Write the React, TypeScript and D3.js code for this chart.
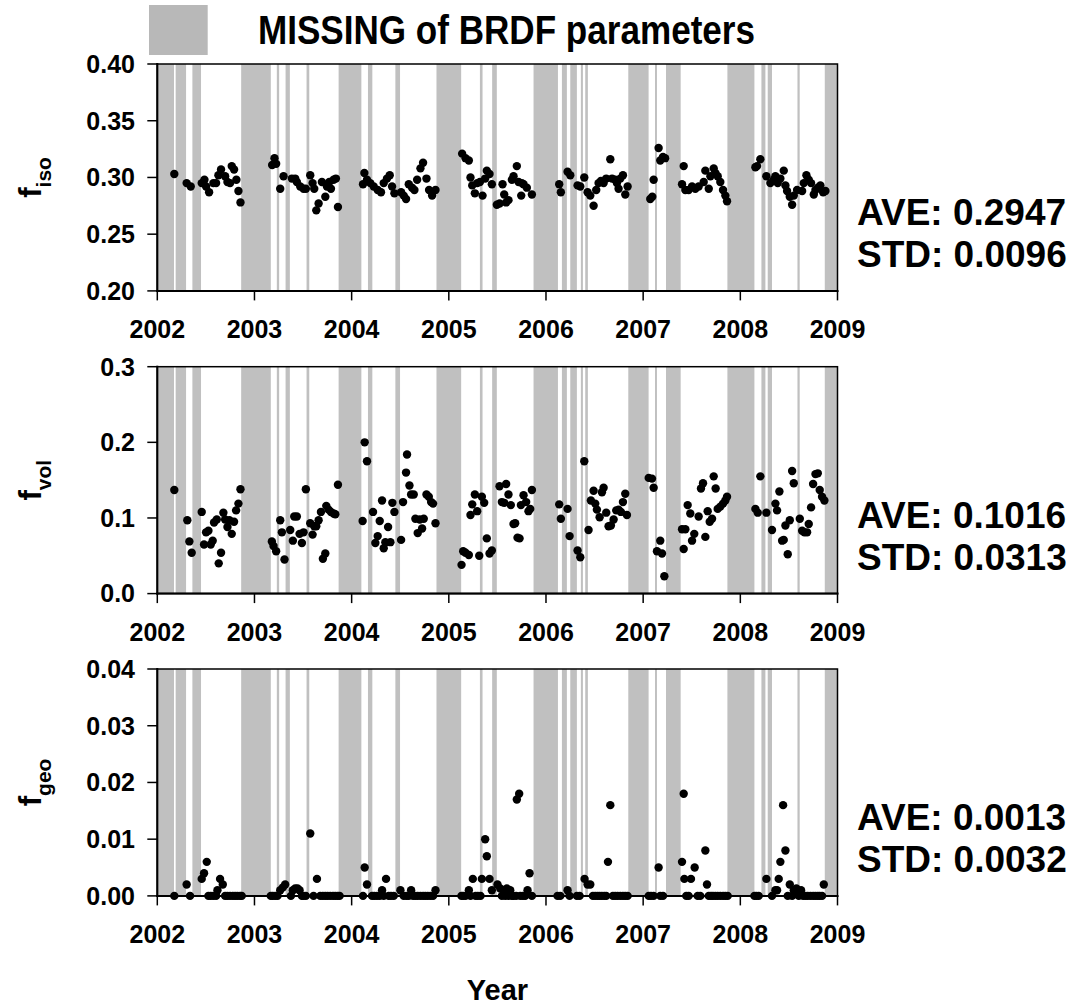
import React from 'react';
import * as d3 from 'd3';

const YEAR_TICKS = [2002, 2003, 2004, 2005, 2006, 2007, 2008, 2009];

const MISSING_PERIODS: [number, number][] = [
  [2002.0, 2002.172], [2002.189, 2002.296], [2002.361, 2002.45], [2002.863, 2003.168],
  [2003.23, 2003.254], [2003.32, 2003.364], [2003.536, 2003.564], [2003.866, 2004.1],
  [2004.168, 2004.213], [2004.45, 2004.498], [2004.873, 2005.127], [2005.32, 2005.347],
  [2005.446, 2005.494], [2005.872, 2006.123], [2006.164, 2006.215], [2006.25, 2006.318],
  [2006.359, 2006.38], [2006.404, 2006.431], [2006.847, 2007.056], [2007.122, 2007.142],
  [2007.235, 2007.386], [2007.867, 2008.145], [2008.217, 2008.258], [2008.282, 2008.326],
  [2008.588, 2008.611], [2008.869, 2009.0],
];

const F_ISO: [number, number][] = [
  [2002.175, 0.303], [2002.302, 0.295], [2002.344, 0.292], [2002.457, 0.295], [2002.485, 0.298], [2002.502, 0.292],
  [2002.533, 0.287], [2002.577, 0.295], [2002.605, 0.295], [2002.629, 0.302], [2002.656, 0.307], [2002.698, 0.301],
  [2002.722, 0.296], [2002.749, 0.295], [2002.766, 0.310], [2002.790, 0.307], [2002.814, 0.298], [2002.835, 0.288],
  [2002.856, 0.278],
  [2003.182, 0.311], [2003.206, 0.317], [2003.223, 0.312], [2003.265, 0.290], [2003.299, 0.301], [2003.385, 0.299],
  [2003.419, 0.299], [2003.436, 0.296], [2003.471, 0.292], [2003.505, 0.290], [2003.529, 0.290], [2003.574, 0.302],
  [2003.598, 0.295], [2003.615, 0.290], [2003.636, 0.271], [2003.660, 0.277], [2003.694, 0.296], [2003.729, 0.283],
  [2003.746, 0.292], [2003.770, 0.296], [2003.787, 0.290], [2003.814, 0.298], [2003.838, 0.299], [2003.859, 0.274],
  [2004.117, 0.294], [2004.131, 0.304], [2004.158, 0.298], [2004.192, 0.295], [2004.227, 0.292], [2004.268, 0.289],
  [2004.302, 0.287], [2004.330, 0.295], [2004.364, 0.299], [2004.392, 0.302], [2004.416, 0.292], [2004.440, 0.286],
  [2004.509, 0.287], [2004.536, 0.284], [2004.560, 0.281], [2004.588, 0.294], [2004.622, 0.291], [2004.646, 0.289],
  [2004.674, 0.298], [2004.708, 0.308], [2004.735, 0.313], [2004.770, 0.299], [2004.797, 0.289], [2004.828, 0.284],
  [2004.863, 0.289],
  [2005.137, 0.321], [2005.172, 0.317], [2005.206, 0.315], [2005.223, 0.300], [2005.241, 0.293], [2005.268, 0.286],
  [2005.292, 0.295], [2005.320, 0.296], [2005.347, 0.284], [2005.374, 0.299], [2005.391, 0.306], [2005.419, 0.303],
  [2005.443, 0.294], [2005.494, 0.276], [2005.522, 0.277], [2005.553, 0.294], [2005.570, 0.285], [2005.590, 0.278],
  [2005.614, 0.280], [2005.649, 0.298], [2005.666, 0.301], [2005.700, 0.310], [2005.718, 0.296], [2005.745, 0.284],
  [2005.752, 0.295], [2005.769, 0.294], [2005.803, 0.291], [2005.855, 0.285],
  [2006.136, 0.294], [2006.153, 0.287], [2006.222, 0.305], [2006.250, 0.302], [2006.325, 0.293], [2006.353, 0.292],
  [2006.394, 0.300], [2006.428, 0.287], [2006.456, 0.284], [2006.490, 0.275], [2006.517, 0.289], [2006.541, 0.295],
  [2006.565, 0.297], [2006.593, 0.295], [2006.620, 0.299], [2006.662, 0.316], [2006.680, 0.299], [2006.713, 0.298],
  [2006.730, 0.295], [2006.747, 0.290], [2006.765, 0.299], [2006.792, 0.302], [2006.816, 0.285], [2006.840, 0.292],
  [2007.073, 0.281], [2007.094, 0.283], [2007.108, 0.298], [2007.159, 0.326], [2007.176, 0.315], [2007.204, 0.318],
  [2007.226, 0.317], [2007.400, 0.294], [2007.417, 0.310], [2007.434, 0.289], [2007.468, 0.289], [2007.503, 0.292],
  [2007.537, 0.290], [2007.571, 0.292], [2007.623, 0.296], [2007.640, 0.306], [2007.675, 0.290], [2007.692, 0.301],
  [2007.726, 0.308], [2007.743, 0.304], [2007.767, 0.301], [2007.794, 0.296], [2007.822, 0.289], [2007.846, 0.284],
  [2007.863, 0.279],
  [2008.155, 0.309], [2008.172, 0.310], [2008.206, 0.316], [2008.268, 0.301], [2008.309, 0.295], [2008.344, 0.298],
  [2008.361, 0.301], [2008.385, 0.295], [2008.412, 0.299], [2008.447, 0.306], [2008.464, 0.293], [2008.481, 0.288],
  [2008.509, 0.283], [2008.533, 0.276], [2008.550, 0.284], [2008.584, 0.289], [2008.636, 0.288], [2008.653, 0.295],
  [2008.680, 0.302], [2008.704, 0.298], [2008.728, 0.295], [2008.756, 0.285], [2008.773, 0.289], [2008.797, 0.291],
  [2008.824, 0.293], [2008.852, 0.287], [2008.876, 0.288],
];

const F_VOL: [number, number][] = [
  [2002.175, 0.137], [2002.309, 0.097], [2002.330, 0.069], [2002.354, 0.054], [2002.457, 0.108], [2002.481, 0.065],
  [2002.502, 0.081], [2002.526, 0.083], [2002.550, 0.065], [2002.570, 0.070], [2002.584, 0.094], [2002.612, 0.098],
  [2002.632, 0.040], [2002.656, 0.054], [2002.680, 0.107], [2002.698, 0.098], [2002.722, 0.088], [2002.742, 0.097],
  [2002.766, 0.079], [2002.790, 0.095], [2002.811, 0.110], [2002.835, 0.119], [2002.856, 0.138],
  [2003.179, 0.069], [2003.196, 0.063], [2003.223, 0.056], [2003.265, 0.097], [2003.282, 0.081], [2003.309, 0.045],
  [2003.368, 0.084], [2003.395, 0.070], [2003.409, 0.102], [2003.436, 0.102], [2003.464, 0.079], [2003.488, 0.067],
  [2003.505, 0.081], [2003.529, 0.138], [2003.574, 0.093], [2003.598, 0.078], [2003.615, 0.089], [2003.636, 0.089],
  [2003.660, 0.097], [2003.684, 0.108], [2003.704, 0.046], [2003.729, 0.053], [2003.739, 0.116], [2003.763, 0.111],
  [2003.787, 0.108], [2003.814, 0.106], [2003.832, 0.105], [2003.859, 0.144],
  [2004.113, 0.096], [2004.134, 0.200], [2004.158, 0.175], [2004.220, 0.108], [2004.244, 0.067], [2004.268, 0.076],
  [2004.289, 0.096], [2004.313, 0.123], [2004.330, 0.060], [2004.347, 0.068], [2004.375, 0.088], [2004.399, 0.068],
  [2004.419, 0.120], [2004.440, 0.108], [2004.509, 0.071], [2004.529, 0.121], [2004.560, 0.160], [2004.570, 0.184],
  [2004.595, 0.143], [2004.612, 0.131], [2004.639, 0.131], [2004.656, 0.099], [2004.680, 0.080], [2004.701, 0.098],
  [2004.725, 0.086], [2004.742, 0.099], [2004.770, 0.131], [2004.794, 0.128], [2004.818, 0.121], [2004.838, 0.119],
  [2004.863, 0.093],
  [2005.131, 0.038], [2005.148, 0.056], [2005.172, 0.054], [2005.206, 0.051], [2005.223, 0.104], [2005.241, 0.118],
  [2005.268, 0.131], [2005.292, 0.109], [2005.313, 0.050], [2005.340, 0.128], [2005.364, 0.120], [2005.391, 0.073],
  [2005.419, 0.053], [2005.443, 0.057], [2005.522, 0.142], [2005.546, 0.121], [2005.570, 0.120], [2005.590, 0.145],
  [2005.614, 0.131], [2005.638, 0.117], [2005.666, 0.092], [2005.683, 0.093], [2005.707, 0.074], [2005.728, 0.073],
  [2005.742, 0.117], [2005.769, 0.130], [2005.796, 0.121], [2005.820, 0.109], [2005.838, 0.112], [2005.855, 0.137],
  [2006.136, 0.118], [2006.153, 0.099], [2006.222, 0.112], [2006.243, 0.076], [2006.325, 0.057], [2006.353, 0.048],
  [2006.394, 0.175], [2006.438, 0.084], [2006.462, 0.123], [2006.490, 0.136], [2006.507, 0.119], [2006.524, 0.111],
  [2006.552, 0.101], [2006.576, 0.134], [2006.593, 0.140], [2006.620, 0.107], [2006.644, 0.089], [2006.668, 0.090],
  [2006.696, 0.098], [2006.723, 0.110], [2006.747, 0.111], [2006.771, 0.108], [2006.792, 0.121], [2006.816, 0.132],
  [2006.833, 0.104],
  [2007.057, 0.153], [2007.091, 0.152], [2007.108, 0.140], [2007.142, 0.056], [2007.176, 0.070], [2007.194, 0.053],
  [2007.218, 0.023], [2007.400, 0.085], [2007.417, 0.059], [2007.434, 0.085], [2007.458, 0.117], [2007.485, 0.106],
  [2007.503, 0.070], [2007.526, 0.079], [2007.571, 0.102], [2007.595, 0.139], [2007.616, 0.146], [2007.640, 0.075],
  [2007.664, 0.109], [2007.685, 0.095], [2007.709, 0.099], [2007.726, 0.155], [2007.746, 0.139], [2007.767, 0.112],
  [2007.794, 0.115], [2007.822, 0.119], [2007.846, 0.123], [2007.863, 0.128],
  [2008.155, 0.112], [2008.179, 0.107], [2008.206, 0.155], [2008.268, 0.107], [2008.326, 0.084], [2008.361, 0.119],
  [2008.378, 0.110], [2008.402, 0.135], [2008.430, 0.070], [2008.447, 0.071], [2008.464, 0.090], [2008.488, 0.052],
  [2008.509, 0.097], [2008.533, 0.162], [2008.550, 0.146], [2008.612, 0.099], [2008.636, 0.083], [2008.660, 0.081],
  [2008.687, 0.081], [2008.704, 0.092], [2008.728, 0.114], [2008.749, 0.145], [2008.773, 0.158], [2008.797, 0.159],
  [2008.817, 0.137], [2008.841, 0.128], [2008.865, 0.123],
];

const F_GEO: [number, number][] = [
  [2002.175, 0], [2002.302, 0.002], [2002.337, 0], [2002.457, 0.003], [2002.481, 0.004], [2002.509, 0.006],
  [2002.526, 0], [2002.550, 0], [2002.577, 0], [2002.605, 0], [2002.619, 0.001], [2002.646, 0.003],
  [2002.674, 0.002], [2002.698, 0], [2002.722, 0], [2002.749, 0], [2002.777, 0], [2002.801, 0],
  [2002.825, 0], [2002.852, 0], [2002.869, 0],
  [2003.168, 0], [2003.189, 0], [2003.213, 0], [2003.237, 0], [2003.265, 0.001], [2003.292, 0.0015],
  [2003.316, 0.002], [2003.375, 0], [2003.395, 0.001], [2003.419, 0.0013], [2003.443, 0.0013], [2003.464, 0.001],
  [2003.488, 0], [2003.505, 0], [2003.529, 0], [2003.574, 0.011], [2003.608, 0], [2003.643, 0.003],
  [2003.677, 0], [2003.704, 0], [2003.729, 0], [2003.753, 0], [2003.780, 0], [2003.808, 0],
  [2003.832, 0], [2003.856, 0], [2003.876, 0],
  [2004.117, 0], [2004.134, 0.005], [2004.158, 0.002], [2004.210, 0], [2004.234, 0], [2004.261, 0],
  [2004.289, 0], [2004.313, 0.001], [2004.330, 0], [2004.354, 0.003], [2004.381, 0], [2004.405, 0],
  [2004.433, 0], [2004.502, 0.001], [2004.536, 0], [2004.564, 0], [2004.588, 0], [2004.612, 0.001],
  [2004.632, 0], [2004.656, 0], [2004.680, 0], [2004.708, 0], [2004.735, 0], [2004.759, 0],
  [2004.784, 0], [2004.811, 0], [2004.838, 0], [2004.863, 0.001],
  [2005.130, 0], [2005.148, 0], [2005.172, 0], [2005.206, 0.001], [2005.223, 0], [2005.247, 0.003],
  [2005.275, 0], [2005.299, 0], [2005.326, 0], [2005.340, 0.003], [2005.374, 0.010], [2005.391, 0.007],
  [2005.419, 0.003], [2005.443, 0.001], [2005.501, 0.002], [2005.529, 0.0013], [2005.546, 0], [2005.563, 0.001],
  [2005.580, 0], [2005.597, 0.0013], [2005.614, 0], [2005.632, 0.001], [2005.649, 0], [2005.666, 0],
  [2005.693, 0], [2005.700, 0.017], [2005.724, 0.018], [2005.735, 0], [2005.762, 0], [2005.786, 0],
  [2005.810, 0.001], [2005.831, 0.004], [2005.855, 0],
  [2006.119, 0], [2006.147, 0], [2006.222, 0.001], [2006.243, 0], [2006.318, 0], [2006.346, 0],
  [2006.397, 0.003], [2006.428, 0.002], [2006.456, 0.002], [2006.483, 0], [2006.507, 0], [2006.531, 0],
  [2006.552, 0], [2006.576, 0], [2006.600, 0], [2006.620, 0], [2006.638, 0.006], [2006.662, 0.016],
  [2006.689, 0], [2006.713, 0], [2006.737, 0], [2006.765, 0], [2006.792, 0], [2006.816, 0],
  [2006.840, 0],
  [2007.057, 0], [2007.081, 0], [2007.108, 0], [2007.159, 0.005], [2007.176, 0], [2007.204, 0],
  [2007.400, 0.006], [2007.417, 0.018], [2007.424, 0.003], [2007.444, 0], [2007.468, 0], [2007.492, 0.003],
  [2007.530, 0.005], [2007.561, 0], [2007.588, 0], [2007.640, 0.008], [2007.657, 0.002], [2007.675, 0],
  [2007.698, 0], [2007.719, 0], [2007.743, 0], [2007.767, 0], [2007.794, 0], [2007.822, 0],
  [2007.846, 0], [2007.870, 0],
  [2008.145, 0], [2008.165, 0], [2008.189, 0], [2008.268, 0.003], [2008.326, 0], [2008.361, 0.001],
  [2008.378, 0.001], [2008.395, 0.003], [2008.412, 0.006], [2008.440, 0.016], [2008.464, 0.008], [2008.488, 0],
  [2008.509, 0.002], [2008.533, 0], [2008.550, 0.001], [2008.577, 0.0013], [2008.601, 0], [2008.625, 0.001],
  [2008.646, 0], [2008.670, 0], [2008.694, 0], [2008.722, 0], [2008.749, 0], [2008.773, 0],
  [2008.797, 0], [2008.817, 0], [2008.841, 0], [2008.859, 0.002],
];

const SUBSCRIPTS = ['iso', 'vol', 'geo'];
const AVE_VALUES = ['0.2947', '0.1016', '0.0013'];
const STD_VALUES = ['0.0096', '0.0313', '0.0032'];
const Y_DOMAINS: [number, number][] = [[0.2, 0.4], [0, 0.3], [0, 0.04]];
const Y_TICKS = [
  [0.2, 0.25, 0.3, 0.35, 0.4],
  [0, 0.1, 0.2, 0.3],
  [0, 0.01, 0.02, 0.03, 0.04],
];
const Y_FORMATS = ['.2f', '.1f', '.2f'];
const SERIES = [F_ISO, F_VOL, F_GEO];

const FONT = "'Liberation Sans', Arial, Helvetica, sans-serif";
const PANEL_TOPS = [64, 366.7, 669];
const PANEL_H = 226.9;
const X0 = 157.3;
const X1 = 837.5;

function Panel({ idx }: { idx: number }) {
  const top = PANEL_TOPS[idx];
  const bottom = top + PANEL_H;
  const x = d3.scaleLinear().domain([2002, 2009]).range([X0, X1]);
  const y = d3.scaleLinear().domain(Y_DOMAINS[idx]).range([bottom, top]);
  const fmt = d3.format(Y_FORMATS[idx]);
  const midY = (top + bottom) / 2;
  return (
    <g>
      {MISSING_PERIODS.map(([a, b], i) => (
        <rect key={'b' + i} x={x(a)} y={top} width={x(b) - x(a)} height={bottom - top} fill="#c0c0c0" />
      ))}
      {SERIES[idx].map(([t, v], i) => (
        <circle key={'p' + i} cx={x(t)} cy={y(v)} r={4.2} fill="#000" />
      ))}
      <rect x={X0} y={top} width={X1 - X0} height={bottom - top} fill="none" stroke="#000" strokeWidth={1.5} />
      <line x1={X0} x2={X0} y1={top - 1} y2={bottom + 1} stroke="#000" strokeWidth={2} />
      <line x1={X0 - 1} x2={X1 + 1} y1={bottom} y2={bottom} stroke="#000" strokeWidth={2} />
      {Y_TICKS[idx].map((t) => (
        <g key={'yt' + t}>
          <line x1={X0 - 10} x2={X0} y1={y(t)} y2={y(t)} stroke="#000" strokeWidth={1.5} />
          <text x={135} y={y(t) + 8.8} textAnchor="end" fontSize={25} fontWeight="bold" fontFamily={FONT}>
            {fmt(t)}
          </text>
        </g>
      ))}
      {YEAR_TICKS.map((t) => (
        <g key={'xt' + t}>
          <line x1={x(t)} x2={x(t)} y1={bottom} y2={bottom + 9.5} stroke="#000" strokeWidth={1.5} />
          <text x={x(t)} y={bottom + 47} textAnchor="middle" fontSize={25} fontWeight="bold" fontFamily={FONT}>
            {t}
          </text>
        </g>
      ))}
      <text
        transform={`translate(41,${midY}) rotate(-90)`}
        textAnchor="middle"
        fontSize={31}
        fontWeight="bold"
        fontFamily={FONT}
      >
        f
        <tspan fontSize={21} dy={10}>
          {SUBSCRIPTS[idx]}
        </tspan>
      </text>
      <text x={857} y={top + 161} fontSize={37} fontWeight="bold" fontFamily={FONT}>
        AVE: {AVE_VALUES[idx]}
      </text>
      <text x={857} y={top + 203.3} fontSize={37} fontWeight="bold" fontFamily={FONT}>
        STD: {STD_VALUES[idx]}
      </text>
    </g>
  );
}

export default function App() {
  return (
    <svg
      width={1074}
      height={1007}
      style={{ position: 'absolute', left: 0, top: 0, background: '#fff' }}
    >
      <rect x={0} y={0} width={1074} height={1007} fill="#fff" />
      <rect x={149} y={5} width={58.7} height={50} fill="#b8b8b8" />
      <text
        x={258}
        y={44}
        fontSize={41}
        fontWeight="bold"
        fontFamily={FONT}
        textLength={497}
        lengthAdjust="spacingAndGlyphs"
      >
        MISSING of BRDF parameters
      </text>
      {[0, 1, 2].map((i) => (
        <Panel key={i} idx={i} />
      ))}
      <text x={497.5} y={1000} textAnchor="middle" fontSize={29} fontWeight="bold" fontFamily={FONT}>
        Year
      </text>
    </svg>
  );
}
